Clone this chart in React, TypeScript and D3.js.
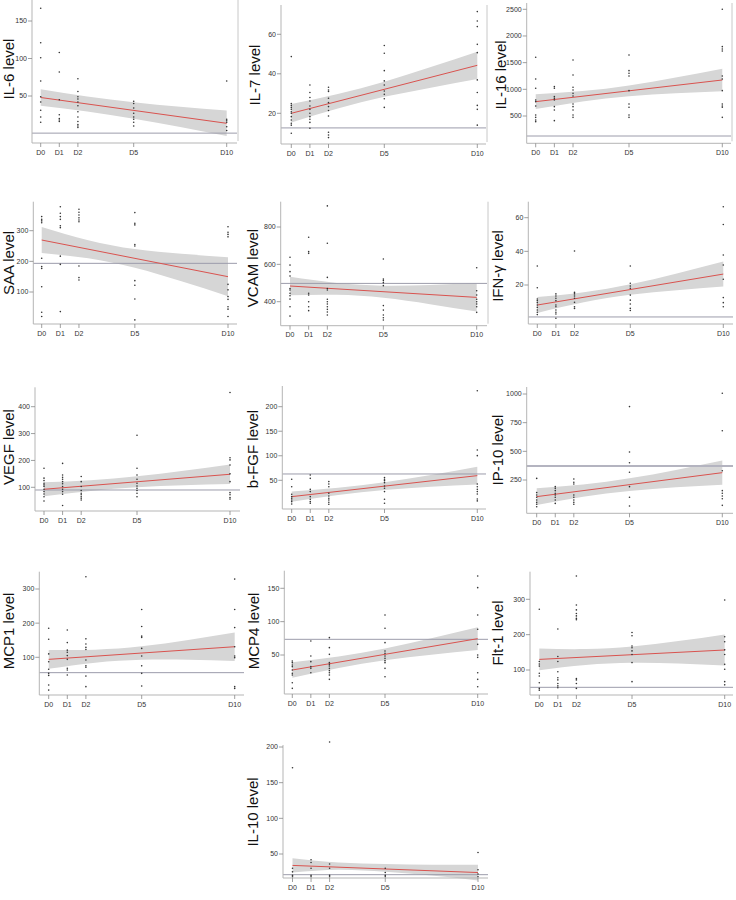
import React from 'react';
import * as d3 from 'd3';

const DAYS = [0, 1, 2, 5, 10];
const DAY_LABELS = ['D0', 'D1', 'D2', 'D5', 'D10'];
const BAND_DAYS = [0, 2.5, 5, 7.5, 10];

const NAMES = ['IL-6', 'IL-7', 'IL-16', 'SAA', 'VCAM', 'IFN-γ', 'VEGF', 'b-FGF', 'IP-10', 'MCP1', 'MCP4', 'Flt-1', 'IL-10'];

const IL6 = [[167, 121, 101, 70, 49, 42, 31, 22, 15], [108, 82, 45, 25, 20, 18, 16], [73, 56, 49, 46, 42, 37, 29, 22, 16, 12, 10, 8], [43, 40, 34, 27, 22, 19, 15, 10], [70, 19, 17, 15, 9, 4]];
const IL7 = [[48.7, 25, 24, 23, 22, 20.8, 20, 18.3, 16.6, 15, 14, 9.9], [34.3, 30.5, 28, 26.2, 23.7, 22, 20, 18.3, 17, 15.4, 12.4], [33.2, 31.8, 31, 27.6, 25.4, 23.4, 21.4, 18.6, 10.4, 9, 7.7], [54.3, 50.4, 41.6, 36.4, 34.3, 31.3, 29.6, 27.4, 23], [71.5, 66.7, 63.9, 54.9, 50.7, 36.9, 30.5, 24, 22, 14]];
const IL16 = [[1600, 1194, 1019, 800, 769, 688, 519, 475, 425, 394], [1050, 1019, 863, 831, 800, 675, 613, 413], [1550, 1269, 1038, 988, 925, 875, 725, 675, 613, 519, 475], [1644, 1350, 1300, 1250, 975, 725, 663, 519, 475], [2500, 1800, 1756, 1719, 1250, 1194, 975, 725, 688, 663, 475]];
const SAA = [[346, 337, 332, 326, 210, 183, 177, 117, 34, 20], [378, 357, 346, 337, 316, 310, 217, 190, 36], [370, 360, 351, 342, 335, 329, 185, 147, 139], [359, 324, 319, 255, 250, 137, 122, 77, 9], [313, 295, 288, 280, 125, 107, 85, 76, 52, 44, 20]];
const VCAM = [[638, 596, 561, 538, 471, 463, 445, 432, 414, 373, 323], [745, 668, 659, 445, 436, 400, 373, 352], [913, 713, 530, 471, 463, 413, 400, 388, 373, 359, 345, 329], [629, 521, 513, 502, 486, 379, 355, 329, 314, 302], [582, 459, 436, 413, 400, 388, 373, 343]];
const IFNG = [[31.3, 18.4, 11.7, 10.7, 9.5, 8.1, 6.7, 5.1, 3.8, 2.4], [14.7, 13.5, 12.1, 10.7, 8.1, 7.1, 5.1, 3.8, 2.8, 0.2], [40.2, 15.6, 14.7, 13.5, 12.1, 9.7, 7.1, 6.1], [31.3, 21, 19.4, 18, 14, 11, 8.7, 6.1, 4.8], [66.5, 56, 37.8, 31.9, 23.4, 12.5, 9.5, 7.1]];
const VEGF = [[171, 134, 125, 115, 109, 103, 93, 84, 75, 65, 49], [189, 146, 137, 130, 121, 113, 103, 93, 84, 74, 32], [140, 121, 103, 88, 78, 72, 65, 59, 53], [294, 171, 146, 130, 115, 105, 96, 88, 78, 65], [453, 210, 202, 183, 150, 121, 80, 72, 62, 56]];
const BFGF = [[52, 37, 21.5, 16.7, 13.3, 10, 6.5, 1.8], [60.8, 54, 31.6, 27, 16.7, 11.3, 6.5, 3.1], [47.3, 42.5, 37, 23.5, 18, 13.3, 10, 5.2, 1.1], [55.5, 52.1, 49.3, 45.2, 38.5, 33.7, 27, 11.3, 3.1], [232.6, 111.7, 100.2, 42.5, 37, 31.6, 27, 22, 12, 8]];
const IP10 = [[264, 140, 119, 99, 76, 55, 38, 17], [192, 177, 157, 134, 119, 99, 76, 46], [259, 230, 215, 119, 99, 76, 55, 38], [890, 494, 401, 317, 192, 99, 23], [1006, 680, 331, 157, 134, 110, 87, 29]];
const MCP1 = [[185, 153, 110, 87, 65, 53, 47, 19, 4], [180, 143, 121, 115, 105, 94, 68, 63, 48], [336, 154, 139, 129, 123, 92, 75, 71, 45, 14], [240, 190, 162, 158, 126, 104, 75, 53, 16], [329, 240, 187, 131, 104, 99, 14, 9]];
const MCP4 = [[41, 38.5, 35, 32.5, 27.5, 22.5, 20, 8.5, 0], [71, 48.5, 40, 32.5, 30, 23.5], [76, 61, 51, 38.5, 36, 33.5, 30, 26.5, 23.5, 20, 13.5], [110, 90, 68.5, 56, 52.5, 48.5, 45, 41.5, 38.5, 30, 17.5], [168.5, 151, 110, 88.5, 66, 50, 46.5, 23.5, 13.5, 2.5]];
const FLT1 = [[272, 124, 117, 111, 91, 83, 64, 48, 43], [216, 138, 124, 95, 78, 72, 62, 55, 50], [366, 284, 270, 260, 253, 246, 242, 76, 72, 62, 48], [206, 197, 168, 163, 154, 144, 121, 67], [298, 194, 180, 157, 144, 116, 102, 67, 58]];
const IL10 = [[171, 30, 25, 20, 18], [42, 38, 30, 20, 18], [207, 36, 30, 20, 18], [30, 24, 20, 18], [52, 28, 22, 18]];

const POINTS = [IL6, IL7, IL16, SAA, VCAM, IFNG, VEGF, BFGF, IP10, MCP1, MCP4, FLT1, IL10];

// fitted line at D0 and D10
const FITS = [[48, 13.6], [20, 44.3], [769, 1175], [269.6, 150], [484, 423], [8.1, 26.5], [92.7, 148.5], [16.7, 59.5], [105, 314], [94, 131], [27.5, 74.5], [130, 156.6], [34, 24]];
// confidence band at BAND_DAYS
const BAND_LO = [[37, 29.4, 19.8, 8.7, -3.4], [15.3, 22.4, 28.35, 33, 37.4], [629, 773, 872, 926, 965], [227, 210, 179, 135, 86.5], [435, 437, 421, 387, 347], [3.35, 9.7, 14.2, 16.9, 19.05], [66.7, 86.6, 100.1, 107.5, 112], [6.2, 19.9, 30.1, 36.8, 41.5], [32, 103, 154, 186, 209], [66.3, 84.2, 92.7, 92.75, 89.5], [15.75, 30.65, 42.1, 50.5, 57.5], [99.5, 114.15, 120.2, 118.15, 112.6], [24, 28, 25, 20, 13]];
const BAND_HI = [[59, 49.4, 41.8, 35.7, 30.6], [24.7, 29.8, 35.95, 43.4, 51.2], [909, 967, 1072, 1220, 1385], [312, 269, 240, 224.5, 213.5], [533, 500, 486, 490, 499], [12.85, 15.7, 20.4, 26.9, 33.95], [118.7, 126.6, 141.1, 161.5, 185], [27.2, 34.9, 46.1, 60.8, 77.5], [178, 211, 265, 338, 419], [121.7, 122.4, 132.3, 150.75, 172.5], [39.25, 47.85, 59.9, 75, 91.5], [160.5, 159.15, 166.4, 181.75, 200.6], [44, 38, 36, 35, 35]];
const REF_VALUES = [0.5, 12.6, 125, 193.5, 498, 1, 90, 62.9, 372, 55, 73.5, 51, 21];
const TICKS = [[50, 100, 150], [20, 40, 60], [500, 1000, 1500, 2000, 2500], [100, 200, 300], [400, 600, 800], [20, 40, 60], [100, 200, 300, 400], [50, 100, 150, 200], [250, 500, 750, 1000], [100, 200, 300], [50, 100, 150], [100, 200, 300], [50, 100, 150, 200]];

// layout (pixels): axisX, axisY, x0, x10, xEnd, yTop, calV1, calP1, calV2, calP2, labelX, labelY, rightBorder, refWidth
const LAYOUT: number[][] = [
  [32, 143, 40.7, 226.7, 237, 0, 150, 21, 50, 96, 14, 69, 1, 1],
  [281, 144, 291.3, 477.3, 486, 5, 60, 34.3, 20, 113.3, 260, 75, 1, 1],
  [526.7, 143.3, 535.7, 722.3, 731, 3, 2500, 9.3, 500, 116, 506, 75, 1, 1],
  [33.3, 324, 41.7, 228, 237, 201.7, 300, 230.7, 100, 292, 14, 263, 0, 1],
  [280.7, 325.7, 290, 476.7, 487, 201.7, 800, 227, 400, 301.7, 258, 268, 1, 1],
  [528.3, 324, 537.3, 723.3, 733, 201.7, 60, 217.7, 20, 285, 503, 266, 0, 1],
  [35, 511, 44, 230, 240, 387.3, 400, 406.7, 100, 487.3, 14, 447, 0, 1],
  [282.3, 509, 291.7, 477.3, 486, 386, 200, 406.7, 50, 480.3, 258, 449, 0, 1],
  [526.7, 513.3, 536.7, 722.3, 733, 387, 1000, 394, 250, 480, 503, 450, 0, 2],
  [39.3, 695, 48.7, 234.7, 244, 571.7, 300, 589, 100, 657.3, 14, 631, 0, 1],
  [284.3, 694, 292.3, 477.7, 488, 570.7, 150, 588.3, 50, 655, 259, 631, 0, 1],
  [530, 695, 539.3, 724.7, 733, 571.7, 300, 599.3, 100, 670, 503, 633, 0, 1],
  [283, 878, 292.5, 478, 488, 745, 200, 747, 50, 854, 258, 812, 0, 1],
];

const FONT = '"Liberation Sans", Arial, Helvetica, sans-serif';

function Panel({ i }: { i: number }) {
  const [axisX, axisY, x0, x10, xEnd, yTop, v1, p1, v2, p2, labelX, labelY, rb, refW] = LAYOUT[i];
  const x = d3.scaleLinear().domain([0, 10]).range([x0, x10]);
  const y = d3.scaleLinear().domain([v1, v2]).range([p1, p2]);
  const lo = BAND_LO[i];
  const hi = BAND_HI[i];
  const area = d3
    .area<number>()
    .x((d) => x(d))
    .y0((_, j) => y(lo[j]))
    .y1((_, j) => y(hi[j]))
    .curve(d3.curveNatural);
  const fit = FITS[i];
  const line = d3
    .line<number>()
    .x((d) => x(d))
    .y((_, j) => y(fit[j]));
  const refY = y(REF_VALUES[i]);
  return (
    <g>
      <path d={area(BAND_DAYS) || ''} fill="#d6d6d6" />
      <line
        x1={axisX}
        x2={xEnd}
        y1={refY}
        y2={refY}
        stroke={refW > 1 ? '#b4b4c0' : '#9c9cab'}
        strokeWidth={refW}
      />
      <path d={line([0, 10]) || ''} stroke="#d9534f" strokeWidth={1} fill="none" />
      {POINTS[i].map((vals, di) =>
        vals.map((v, k) => <circle key={`${di}-${k}`} cx={x(DAYS[di])} cy={y(v)} r={0.8} fill="#333" />)
      )}
      <line x1={axisX} x2={axisX} y1={yTop} y2={axisY} stroke="#b5b5b5" strokeWidth={1} />
      <line x1={axisX} x2={xEnd} y1={axisY} y2={axisY} stroke="#b5b5b5" strokeWidth={1} />
      {rb ? <line x1={xEnd + 1} x2={xEnd + 1} y1={yTop} y2={axisY - 2} stroke="#c8c8c8" strokeWidth={1} /> : null}
      {TICKS[i].map((t) => (
        <g key={t}>
          <line x1={axisX - 4} x2={axisX} y1={y(t)} y2={y(t)} stroke="#888" strokeWidth={0.8} />
          <text x={axisX - 5} y={y(t)} dy="0.35em" textAnchor="end" fontSize={7} fontFamily={FONT} fill="#333">
            {t}
          </text>
        </g>
      ))}
      {DAYS.map((d, di) => (
        <g key={d}>
          <line x1={x(d)} x2={x(d)} y1={axisY} y2={axisY + 4} stroke="#888" strokeWidth={0.8} />
          <text x={x(d)} y={axisY + 11.5} textAnchor="middle" fontSize={7} fontFamily={FONT} fill="#333">
            {DAY_LABELS[di]}
          </text>
        </g>
      ))}
      <text
        transform={`translate(${labelX},${labelY}) rotate(-90)`}
        textAnchor="middle"
        fontSize={15}
        fontFamily={FONT}
        fill="#111"
      >
        {NAMES[i] + ' level'}
      </text>
    </g>
  );
}

export default function App() {
  return (
    <svg width={736} height={900} style={{ position: 'absolute', left: 0, top: 0, background: '#fff' }}>
      <rect width={736} height={900} fill="#fff" />
      {NAMES.map((_, i) => (
        <Panel key={i} i={i} />
      ))}
    </svg>
  );
}
